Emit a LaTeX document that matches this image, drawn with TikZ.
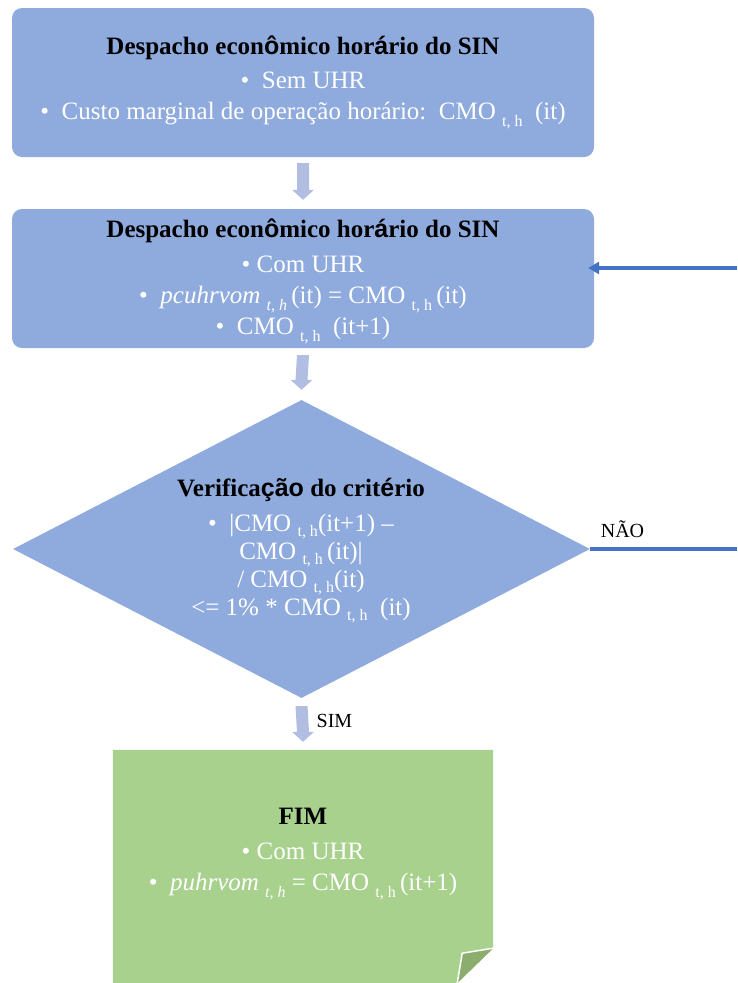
\documentclass[tikz,border=0pt]{standalone}
\usepackage{fontspec}
\setmainfont{Liberation Serif}
\newfontfamily\sansacc{Liberation Sans}
\usetikzlibrary{shapes.geometric,calc,arrows.meta}
\definecolor{boxblue}{HTML}{8FAADC}
\definecolor{arrblue}{HTML}{B1BEE2}
\definecolor{linkblue}{HTML}{4472C4}
\definecolor{notegreen}{HTML}{A9D18E}
\definecolor{folddark}{HTML}{8BAE6F}
\newcommand\subs[1]{\raisebox{-0.28em}{\fontsize{16}{16}\selectfont #1}}
\newcommand\dsubs[1]{\raisebox{-0.2em}{\fontsize{16}{16}\selectfont #1}}
\newcommand\acc[1]{{\sansacc\bfseries #1}}
\newcommand\ttl[1]{\textcolor{black}{\bfseries #1}}
\newcommand\downarr[2]{%
  \fill[blockarr] ($(#1)+(-6,0)$) -- ($(#1)+(6,0)$) -- ($(#2)+(6,-10)$) -- ($(#2)+(11,-10)$)
    -- (#2) -- ($(#2)+(-11,-10)$) -- ($(#2)+(-6,-10)$) -- cycle;}
\begin{document}
\begin{tikzpicture}[x=1pt,y=-1pt,
  box/.style={rounded corners=10pt, fill=boxblue, draw=none, minimum width=582pt,
    inner sep=0pt, align=center, text=white, font=\fontsize{25}{31}\selectfont},
  txt/.style={inner sep=0pt, align=center, text=white, font=\fontsize{25}{31}\selectfont},
  blockarr/.style={fill=arrblue, draw=none},
  link/.style={draw=linkblue, line width=3.5pt},
  lbl/.style={font=\fontsize{20}{24}\selectfont, text=black, inner sep=0pt}
]
\useasboundingbox (0,0) rectangle (737,983);

% box 1
\node[box, minimum height=149pt] (b1) at (303,82.5)
  {\ttl{Despacho econ\acc{ô}mico hor\acc{á}rio do SIN}\\[3pt]
   \textbullet\ \ Sem UHR\\
   \textbullet\ \ Custo marginal de operação horário:\ \ CMO \subs{t, h}\ \ (it)};

% box 2
\node[box, minimum height=139pt] (b2) at (303,278.5) {};
\node[txt] (b2t) at (303,281.5)
  {\ttl{Despacho econ\acc{ô}mico hor\acc{á}rio do SIN}\\[4pt]
   \textbullet\ Com UHR\\
   \textbullet\ \ \textit{pcuhrvom \subs{t, h}}\,(it) = CMO \subs{t, h}\,(it)\\
   \textbullet\ \ CMO \subs{t, h}\ \ (it+1)};

% diamond
\node[diamond, fill=boxblue, minimum width=577pt, minimum height=298pt, inner sep=0pt]
  (d) at (301.5,549) {};
\node[txt, font=\fontsize{25}{28}\selectfont] (dt) at (301,551)
  {\ttl{Verifica\acc{ção} do crit\acc{é}rio}\\[7pt]
   \textbullet\ \ |CMO \dsubs{t, h}(it+1) –\\
   CMO \dsubs{t, h}\,(it)|\\
   / CMO \dsubs{t, h}(it)\\
   <= 1\% * CMO \dsubs{t, h}\ \ (it)};

% end note
\node[minimum width=380pt, minimum height=233pt, inner sep=0pt] (n) at (303,866.5) {};
\fill[notegreen] (n.north west) -- (n.north east) -- ($(n.south east)+(0,-35)$)
  -- ($(n.south east)+(-36,0)$) -- (n.south west) -- cycle;
\fill[folddark] ($(n.south east)+(0,-35)$) -- ($(n.south east)+(-31,-30)$)
  -- ($(n.south east)+(-36,0)$) -- cycle;
\draw[white, line width=1.5pt, line join=miter] ($(n.south east)+(0,-35)$)
  -- ($(n.south east)+(-31,-30)$) -- ($(n.south east)+(-36,0)$);
\node[txt] (nt) at (303,854)
  {\ttl{FIM}\\[4pt]
   \textbullet\ Com UHR\\
   \textbullet\ \ \textit{puhrvom \subs{t, h}} = CMO \subs{t, h}\,(it+1)};

% block arrows between steps
\coordinate (a1s) at ([yshift=-6pt]b1.south);
\coordinate (a1e) at ([yshift=9pt]b2.north);
\downarr{a1s}{a1e}
\coordinate (a2s) at ([yshift=-7pt]b2.south);
\coordinate (a2e) at ([yshift=10pt]d.north);
\downarr{a2s}{a2e}
\coordinate (a3s) at ([yshift=-8pt]d.south);
\coordinate (a3e) at ([yshift=8pt]n.north);
\downarr{a3s}{a3e}
\node[lbl, anchor=base west] (sim) at ($(a3s)+(15,21)$) {SIM};

% feedback loop
\coordinate (rin) at (737,268);
\draw[link, -{Triangle[width=12pt,length=11pt]}] (rin) -- ($(rin -| b2.east)+(-6,0)$);
\coordinate (nout) at (737,548);
\draw[link] (d.east) -- node[lbl, pos=0.22, anchor=base, yshift=12pt] {NÃO} (nout |- d.east);
\end{tikzpicture}
\end{document}
